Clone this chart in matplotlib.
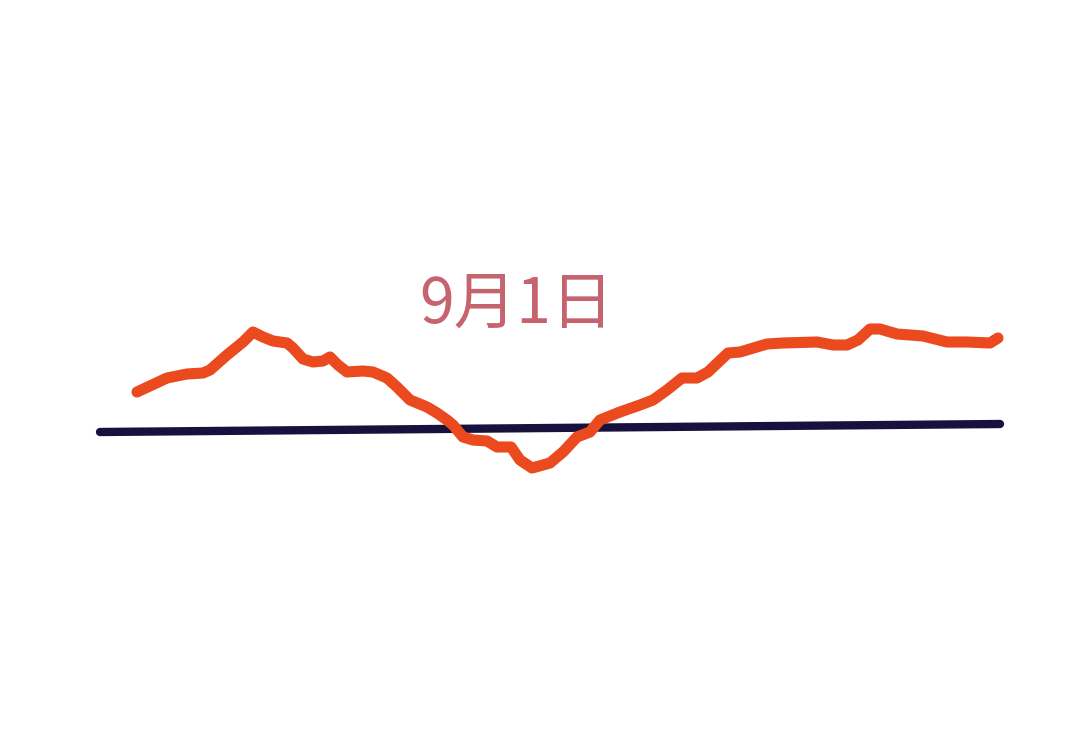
import matplotlib.pyplot as plt

plt.rcParams['font.family'] = ['Noto Sans CJK SC', 'DejaVu Sans']

# orange curve, traced in picture pixels (x right, y down)
curve_x = [137, 167, 187, 203, 210, 227, 243, 253, 263, 273, 287, 293, 303, 313,
           323, 330, 338, 347, 363, 373, 387, 397, 410, 427, 437, 447, 453, 463,
           473, 487, 497, 511, 520, 532, 550, 563, 577, 590, 600, 620, 640, 653,
           667, 682, 697, 708, 728, 740, 767, 783, 817, 833, 847, 858, 870, 880,
           897, 923, 947, 967, 990, 998]
curve_y = [392, 378, 374, 373, 370, 355, 342, 332, 337, 341, 343, 348, 359, 362,
           361, 357, 365, 372, 371, 372, 378, 387, 400, 407, 413, 420, 425, 437,
           440, 441, 447, 447, 460, 468, 463, 452, 437, 432, 420, 412, 405, 400,
           390, 378, 378, 372, 353, 352, 344, 343, 342, 345, 345, 340, 329, 329,
           334, 336, 342, 342, 343, 338]

# dark baseline
base_x = [100, 1000]
base_y = [432, 424]

label = "9月1日"

fig = plt.figure(figsize=(10.8, 7.44), dpi=100)
ax = fig.add_axes([0, 0, 1, 1])
ax.set_xlim(0, 1080)
ax.set_ylim(744, 0)
ax.axis('off')

ax.plot(base_x, base_y, color='#16123d', linewidth=6, solid_capstyle='round')
ax.plot(curve_x, curve_y, color='#ea4a1e', linewidth=8,
        solid_capstyle='round', solid_joinstyle='round')

ax.text(517, 305, label, color='#c5646e', fontsize=45,
        fontweight='light', ha='center', va='center')

fig.savefig("out.png", dpi=100, facecolor='white')
